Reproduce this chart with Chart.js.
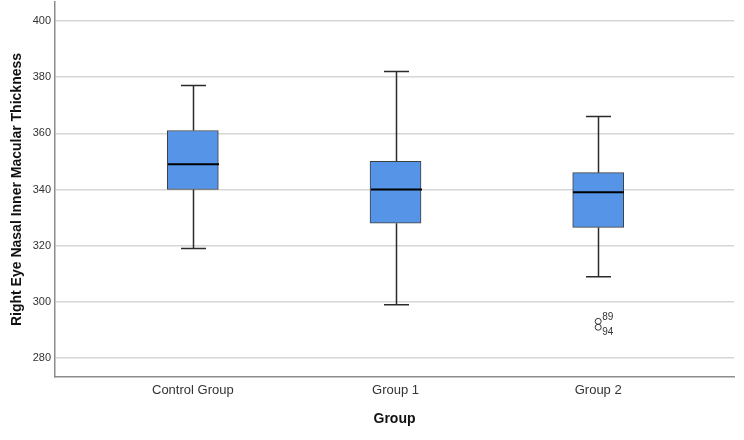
<!DOCTYPE html>
<html>
<head>
<meta charset="utf-8">
<script src="https://cdn.jsdelivr.net/npm/chart.js@4/dist/chart.umd.min.js"></script>
<style>
  html, body { margin: 0; padding: 0; background: #ffffff; }
  #wrap { width: 744px; height: 440px; }
</style>
</head>
<body>
<div id="wrap"><canvas id="myChart" width="744" height="440"></canvas></div>
<script>
// datos
const categorias = ['Control Group', 'Group 1', 'Group 2'];
const minimos = [319, 299, 309];
const q1s = [340, 328, 326.5];
const medianas = [349, 340, 339];
const q3s = [361, 350, 346];
const maximos = [377, 382, 366];
const atipicosGrupo = [3, 3];
const atipicosValor = [293.1, 291.0];
const atipicosEtiqueta = ['89', '94'];
const ticksY = [280, 300, 320, 340, 360, 380, 400];

const ctx = document.getElementById('myChart');

const posiciones = categorias.map((c, i) => i + 1);

// bigotes, medianas y etiquetas de atipicos
const bigotesPlugin = {
    id: 'bigotes',
    afterDatasetsDraw(chart) {
        const x = chart.scales.x, y = chart.scales.y;
        const c = chart.ctx;
        c.save();
        posiciones.forEach((p, i) => {
            const px = Math.round(x.getPixelForValue(p)) + 0.5;
            const cap = 12.5;
            c.strokeStyle = '#2b2b2b';
            c.lineWidth = 1.5;
            c.beginPath();
            c.moveTo(px, y.getPixelForValue(q3s[i]));
            c.lineTo(px, y.getPixelForValue(maximos[i]));
            c.moveTo(px, y.getPixelForValue(q1s[i]));
            c.lineTo(px, y.getPixelForValue(minimos[i]));
            c.moveTo(px - cap, y.getPixelForValue(maximos[i]));
            c.lineTo(px + cap, y.getPixelForValue(maximos[i]));
            c.moveTo(px - cap, y.getPixelForValue(minimos[i]));
            c.lineTo(px + cap, y.getPixelForValue(minimos[i]));
            c.stroke();
            // mediana
            c.strokeStyle = '#000000';
            c.lineWidth = 2;
            c.beginPath();
            c.moveTo(px - 25.5, y.getPixelForValue(medianas[i]));
            c.lineTo(px + 25.5, y.getPixelForValue(medianas[i]));
            c.stroke();
        });
        c.fillStyle = '#333333';
        c.font = '10px "Liberation Sans", Arial, sans-serif';
        c.textBaseline = 'middle';
        atipicosValor.forEach((v, i) => {
            const px = x.getPixelForValue(atipicosGrupo[i]);
            const py = y.getPixelForValue(v);
            const dy = i === 0 ? -4 : 5;
            c.fillText(atipicosEtiqueta[i], px + 4, py + dy);
        });
        c.restore();
    }
};

const sinPadding = s => { s.paddingTop = 0; s.paddingBottom = 0; s.paddingLeft = 0; s.paddingRight = 0; };

const miGrafica = new Chart(ctx, {
    type: 'bar',
    data: {
        datasets: [
            {
                type: 'bar',
                label: 'Caja',
                data: posiciones.map((p, i) => ({ x: p, y: [q1s[i], q3s[i]] })),
                backgroundColor: '#5594e6',
                borderColor: '#404040',
                borderWidth: 1,
                borderSkipped: false,
                barThickness: 51,
                order: 2
            },
            {
                type: 'scatter',
                label: 'Atipicos',
                data: atipicosValor.map((v, i) => ({ x: atipicosGrupo[i], y: v })),
                pointStyle: 'circle',
                pointRadius: 3,
                backgroundColor: 'rgba(0,0,0,0)',
                borderColor: '#333333',
                borderWidth: 1,
                order: 1
            }
        ]
    },
    options: {
        responsive: false,
        animation: false,
        layout: { autoPadding: false, padding: { top: 2, right: 10, left: 0, bottom: 0 } },
        plugins: {
            legend: { display: false },
            tooltip: { enabled: false }
        },
        scales: {
            x: {
                type: 'linear',
                offset: false,
                min: 0.32,
                max: 3.67,
                afterBuildTicks: s => { s.ticks = posiciones.map(v => ({ value: v })); },
                afterFit: s => { s.height = 63; sinPadding(s); },
                ticks: {
                    callback: v => categorias[v - 1],
                    color: '#333333',
                    font: { family: '"Liberation Sans", Arial, sans-serif', size: 13 },
                    padding: 6,
                    autoSkip: false,
                    maxRotation: 0
                },
                grid: { display: false, drawTicks: false, offset: false },
                border: { color: '#8c8c8c', width: 1.5 },
                title: {
                    display: true,
                    text: 'Group',
                    color: '#111111',
                    font: { family: '"Liberation Sans", Arial, sans-serif', size: 14, weight: 'bold' },
                    padding: { top: 4, bottom: 12 }
                }
            },
            y: {
                min: 273.3,
                max: 406.7,
                afterBuildTicks: s => { s.ticks = ticksY.map(v => ({ value: v })); },
                afterFit: s => { s.width = 55; sinPadding(s); },
                ticks: {
                    color: '#333333',
                    font: { family: '"Liberation Sans", Arial, sans-serif', size: 11 },
                    padding: 4
                },
                grid: { color: '#d6d6d6', lineWidth: 1.5, drawTicks: false },
                border: { color: '#8c8c8c', width: 1.5 },
                title: {
                    display: true,
                    text: 'Right Eye Nasal Inner Macular Thickness',
                    color: '#111111',
                    font: { family: '"Liberation Sans", Arial, sans-serif', size: 14, weight: 'bold' },
                    padding: { top: 9, bottom: 4 }
                }
            }
        }
    },
    plugins: [bigotesPlugin]
});
</script>
</body>
</html>
